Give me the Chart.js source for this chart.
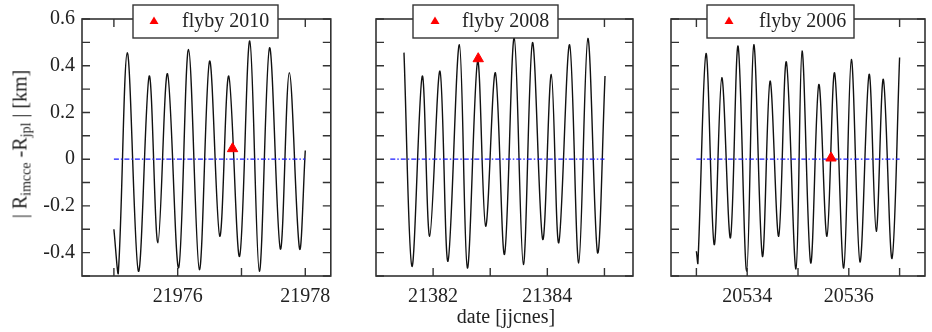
<!DOCTYPE html>
<html>
<head>
<meta charset="utf-8">
<script src="https://cdn.jsdelivr.net/npm/chart.js@4.4.0/dist/chart.umd.min.js"></script>
<style>
  html, body { margin: 0; padding: 0; background: #fff; }
  #wrap { position: relative; width: 932px; height: 332px; overflow: hidden; }
  .panel { position: absolute; top: 0; }
  .ytitle {
    position: absolute; left: 20px; top: 144px;
    transform: translate(-50%, -50%) rotate(-90deg);
    white-space: nowrap; line-height: 20px;
    font: 20px "Liberation Serif", "Times New Roman", serif; color: #222;
  }
  .ytitle sub { font-size: 14px; vertical-align: -4px; line-height: 0; }
  .xtitle {
    position: absolute; left: 506px; top: 316px;
    transform: translate(-50%, -50%);
    white-space: nowrap; font: 20px "Liberation Serif", "Times New Roman", serif; color: #222;
  }
</style>
</head>
<body>
<div id="wrap">
  <canvas id="c2010" class="panel" width="340" height="332" style="left:0px"></canvas>
  <canvas id="c2008" class="panel" width="300" height="332" style="left:340px"></canvas>
  <canvas id="c2006" class="panel" width="292" height="332" style="left:640px"></canvas>
  <div class="ytitle">| R<sub>imcce</sub> -R<sub>jpl</sub> | [km]</div>
  <div class="xtitle">date [jjcnes]</div>
</div>
<script>
// shared y axis
const yRange = [-0.5, 0.6];
const yTicks = [-0.5, -0.4, -0.3, -0.2, -0.1, 0, 0.1, 0.2, 0.3, 0.4, 0.5, 0.6];
const yLabels = ['-0.4', '-0.2', '0', '0.2', '0.4', '0.6'];

// flyby 2010
const range2010 = [21974.5, 21978.4];
const ticks2010 = [21975, 21976, 21977, 21978];
const labels2010 = [21976, 21978];
const days2010 = [21975.0, 21975.068, 21975.21, 21975.385, 21975.554, 21975.69, 21975.84, 21976.015,
  21976.17, 21976.34, 21976.50, 21976.66, 21976.80, 21976.97, 21977.13, 21977.28, 21977.44,
  21977.61, 21977.75, 21977.91, 21978.0];
const vals2010 = [-0.30, -0.49, 0.456, -0.48, 0.356, -0.358, 0.366, -0.465, 0.47, -0.473, 0.42,
  -0.33, 0.356, -0.416, 0.506, -0.48, 0.477, -0.385, 0.37, -0.383, 0.037];
const zero2010 = [21975, 21978];
const flybyDay2010 = [21976.86];
const flybyVal2010 = [0.045];

// flyby 2008
const range2008 = [21381, 21385.5];
const ticks2008 = [21382, 21383, 21384, 21385];
const labels2008 = [21382, 21384];
const days2008 = [21381.49, 21381.63, 21381.81, 21381.94, 21382.12, 21382.26, 21382.46, 21382.60,
  21382.78, 21382.92, 21383.09, 21383.25, 21383.42, 21383.58, 21383.74, 21383.92, 21384.07,
  21384.20, 21384.39, 21384.55, 21384.71, 21384.88, 21385.01];
const vals2008 = [0.456, -0.459, 0.356, -0.33, 0.377, -0.437, 0.49, -0.466, 0.42, -0.287, 0.37,
  -0.408, 0.52, -0.451, 0.499, -0.344, 0.363, -0.358, 0.49, -0.444, 0.517, -0.401, 0.356];
const zero2008 = [21381.25, 21385];
const flybyDay2008 = [21382.79];
const flybyVal2008 = [0.43];

// flyby 2006
const range2006 = [20532.5, 20537.5];
const ticks2006 = [20533, 20534, 20535, 20536, 20537];
const labels2006 = [20534, 20536];
const days2006 = [20533.0, 20533.03, 20533.19, 20533.35, 20533.50, 20533.67, 20533.82, 20533.99,
  20534.13, 20534.30, 20534.45, 20534.62, 20534.77, 20534.96, 20535.08, 20535.25, 20535.41,
  20535.57, 20535.72, 20535.90, 20536.05, 20536.22, 20536.40, 20536.54, 20536.68, 20536.85, 20537.0];
const vals2006 = [-0.394, -0.444, 0.452, -0.366, 0.349, -0.337, 0.484, -0.48, 0.49, -0.416, 0.334,
  -0.33, 0.417, -0.47, 0.463, -0.444, 0.32, -0.33, 0.37, -0.466, 0.427, -0.44, 0.363, -0.309,
  0.342, -0.425, 0.435];
const zero2006 = [20533, 20537];
const flybyDay2006 = [20535.65];
const flybyVal2006 = [0.005];

const serif = '"Liberation Serif", "Times New Roman", serif';
const ink = '#222';
const frameColor = '#333';

// frame + inward ticks on all four sides
const frameTicks = {
  id: 'frameTicks',
  afterDatasetsDraw(chart) {
    const { ctx, chartArea: a, scales: { x, y } } = chart;
    const len = 8;
    ctx.save();
    ctx.strokeStyle = frameColor;
    ctx.lineWidth = 1.4;
    ctx.beginPath();
    x.ticks.forEach(t => {
      const px = x.getPixelForValue(t.value);
      ctx.moveTo(px, a.bottom); ctx.lineTo(px, a.bottom - len);
      ctx.moveTo(px, a.top); ctx.lineTo(px, a.top + len);
    });
    y.ticks.forEach(t => {
      const py = y.getPixelForValue(t.value);
      ctx.moveTo(a.left, py); ctx.lineTo(a.left + len, py);
      ctx.moveTo(a.right, py); ctx.lineTo(a.right - len, py);
    });
    ctx.stroke();
    ctx.lineWidth = 1.6;
    ctx.strokeRect(a.left, a.top, a.right - a.left, a.bottom - a.top);
    ctx.restore();
  }
};

// boxed legend sitting over the top edge
const boxLegend = {
  id: 'boxLegend',
  afterDraw(chart, args, opts) {
    const ds = chart.data.datasets.find(d => d.label);
    if (!ds) return;
    const ctx = chart.ctx;
    ctx.save();
    ctx.fillStyle = '#fff';
    ctx.fillRect(opts.x, opts.y, opts.w, opts.h);
    ctx.strokeStyle = frameColor;
    ctx.lineWidth = 1.4;
    ctx.strokeRect(opts.x, opts.y, opts.w, opts.h);
    // marker
    const cy = opts.y + 16;
    ctx.fillStyle = ds.backgroundColor;
    ctx.beginPath();
    ctx.moveTo(opts.tri, cy - 4.5);
    ctx.lineTo(opts.tri + 4.5, cy + 3);
    ctx.lineTo(opts.tri - 4.5, cy + 3);
    ctx.closePath();
    ctx.fill();
    ctx.fillStyle = ink;
    ctx.font = '20px ' + serif;
    ctx.textBaseline = 'alphabetic';
    ctx.textAlign = 'left';
    ctx.fillText(ds.label, opts.text, opts.y + 22);
    ctx.restore();
  }
};

function pts(xs, ys) {
  return xs.map((v, i) => ({ x: v, y: ys[i] }));
}

function makePanel(id, cfg) {
  new Chart(document.getElementById(id), {
    type: 'line',
    data: {
      datasets: [
        {
          data: pts(cfg.days, cfg.vals),
          borderColor: '#111', borderWidth: 1.4,
          pointRadius: 0, tension: 0.35, order: 2
        },
        {
          data: pts(cfg.zero, [0, 0]),
          borderColor: '#1a1aff', borderWidth: 1.3, borderDash: [5, 2, 1.5, 2],
          pointRadius: 0, order: 1
        },
        {
          label: cfg.label,
          data: pts(cfg.flyDay, cfg.flyVal),
          showLine: false, pointStyle: 'triangle', pointRadius: 6,
          backgroundColor: '#ff0000', borderColor: '#ff0000', order: 0
        }
      ]
    },
    options: {
      responsive: false,
      animation: false,
      layout: { padding: { top: 19, right: cfg.padRight, left: 0, bottom: 0 } },
      plugins: {
        legend: { display: false },
        tooltip: { enabled: false },
        boxLegend: cfg.legend
      },
      scales: {
        x: {
          type: 'linear', min: cfg.range[0], max: cfg.range[1],
          grid: { display: false, drawTicks: false },
          border: { display: false },
          afterBuildTicks: s => { s.ticks = cfg.ticks.map(v => ({ value: v })); },
          afterFit: s => { s.height = 56; },
          ticks: {
            autoSkip: false, maxRotation: 0, padding: 9,
            font: { family: serif, size: 20 }, color: ink,
            callback: v => cfg.labels.includes(v) ? String(v) : ''
          }
        },
        y: {
          min: yRange[0], max: yRange[1],
          grid: { display: false, drawTicks: false },
          border: { display: false },
          afterBuildTicks: s => { s.ticks = yTicks.map(v => ({ value: v })); },
          afterFit: s => { s.width = cfg.yWidth; },
          ticks: {
            display: cfg.showY, autoSkip: false, padding: 7,
            font: { family: serif, size: 20 }, color: ink,
            callback: v => {
              const lab = yLabels.find(l => Math.abs(parseFloat(l) - v) < 1e-6);
              return lab === undefined ? '' : lab;
            }
          }
        }
      }
    },
    plugins: [frameTicks, boxLegend]
  });
}

makePanel('c2010', {
  label: 'flyby 2010', days: days2010, vals: vals2010, zero: zero2010,
  flyDay: flybyDay2010, flyVal: flybyVal2010, range: range2010, ticks: ticks2010, labels: labels2010,
  yWidth: 82, padRight: 6, showY: true,
  legend: { x: 133, y: 5, w: 145, h: 33, tri: 154, text: 182 }
});
makePanel('c2008', {
  label: 'flyby 2008', days: days2008, vals: vals2008, zero: zero2008,
  flyDay: flybyDay2008, flyVal: flybyVal2008, range: range2008, ticks: ticks2008, labels: labels2008,
  yWidth: 36, padRight: 7, showY: false,
  legend: { x: 73, y: 5, w: 145, h: 33, tri: 95, text: 122 }
});
makePanel('c2006', {
  label: 'flyby 2006', days: days2006, vals: vals2006, zero: zero2006,
  flyDay: flybyDay2006, flyVal: flybyVal2006, range: range2006, ticks: ticks2006, labels: labels2006,
  yWidth: 31, padRight: 4, showY: false,
  legend: { x: 67, y: 5, w: 147, h: 33, tri: 89, text: 119 }
});
</script>
</body>
</html>
